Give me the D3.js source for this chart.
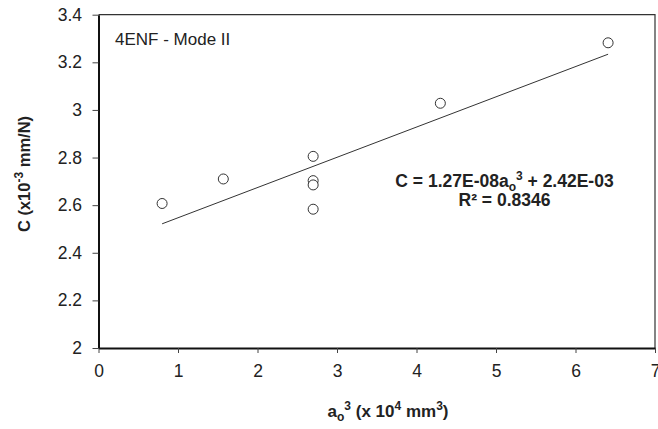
<!DOCTYPE html>
<html>
<head>
<meta charset="utf-8">
<script src="https://cdn.jsdelivr.net/npm/d3@7"></script>
<style>
  body { margin: 0; background: #fff; }
  text { font-family: "Liberation Sans", Arial, sans-serif; fill: #222; }
</style>
</head>
<body>
<div id="chart"></div>
<script>
// data
const aoCubed = [0.8, 1.57, 2.7, 2.7, 2.7, 2.7, 4.3, 6.41];     // x 10^4 mm^3
const compliance = [2.607, 2.71, 2.805, 2.703, 2.685, 2.583, 3.028, 3.282]; // x 10^-3 mm/N
const xTicks = [0, 1, 2, 3, 4, 5, 6, 7];
const yTicks = [2, 2.2, 2.4, 2.6, 2.8, 3, 3.2, 3.4];
const fitSlope = 0.127;     // 1.27E-08 per mm^3 in chart units
const fitIntercept = 2.42;

const W = 658, H = 429;
const margin = { top: 14.7, right: 3, bottom: 81, left: 98.5 };
const width = W - margin.left - margin.right;
const height = H - margin.top - margin.bottom;

const svg = d3.select("#chart")
  .append("svg")
    .attr("width", W)
    .attr("height", H)
  .append("g")
    .attr("transform", `translate(${margin.left},${margin.top})`);

const x = d3.scaleLinear().domain([0, 7]).range([0, width]);
const y = d3.scaleLinear().domain([2, 3.4]).range([height, 0]);

// frame on top / right
svg.append("path")
  .attr("d", `M0,0H${width}V${height}`)
  .attr("fill", "none")
  .attr("stroke", "#333")
  .attr("stroke-width", 1.2);

// X axis
const xAxis = svg.append("g")
  .attr("transform", `translate(0,${height})`)
  .call(d3.axisBottom(x).tickValues(xTicks).tickSize(5).tickSizeOuter(0).tickPadding(12).tickFormat(d => d));
xAxis.select(".domain").attr("stroke", "#111").attr("stroke-width", 2);
xAxis.selectAll(".tick line").attr("stroke", "#444");
xAxis.selectAll("text").attr("font-size", 17.5).attr("fill", "#222")
  .style("font-family", "'Liberation Sans', Arial, sans-serif");

// Y axis
const yAxis = svg.append("g")
  .call(d3.axisLeft(y).tickValues(yTicks).tickSize(6).tickSizeOuter(0).tickPadding(10.5).tickFormat(d => +d.toFixed(1)));
yAxis.select(".domain").attr("stroke", "#111").attr("stroke-width", 2);
yAxis.selectAll(".tick line").attr("stroke", "#444");
yAxis.selectAll("text").attr("font-size", 17.5).attr("fill", "#222")
  .style("font-family", "'Liberation Sans', Arial, sans-serif");

// trend line
const xMin = d3.min(aoCubed), xMax = d3.max(aoCubed);
svg.append("line")
  .attr("x1", x(xMin)).attr("y1", y(fitSlope * xMin + fitIntercept))
  .attr("x2", x(xMax)).attr("y2", y(fitSlope * xMax + fitIntercept))
  .attr("stroke", "#333")
  .attr("stroke-width", 1);

// points
svg.append("g")
  .selectAll("circle")
  .data(aoCubed.map((v, i) => [v, compliance[i]]))
  .join("circle")
    .attr("cx", d => x(d[0]))
    .attr("cy", d => y(d[1]))
    .attr("r", 5)
    .attr("fill", "#fff")
    .attr("stroke", "#333")
    .attr("stroke-width", 1);

// panel label
svg.append("text")
  .attr("x", 16.5)
  .attr("y", 30.5)
  .attr("font-size", 17)
  .text("4ENF - Mode II");

// equation
const eq = svg.append("text")
  .attr("x", 406)
  .attr("y", 172.5)
  .attr("text-anchor", "middle")
  .attr("font-size", 17.5)
  .attr("font-weight", "bold");
eq.append("tspan").text("C = 1.27E-08a");
eq.append("tspan").attr("font-size", 12).attr("dy", 4).text("o");
eq.append("tspan").attr("font-size", 12).attr("dy", -11).text("3");
eq.append("tspan").attr("dy", 7).text(" + 2.42E-03");

svg.append("text")
  .attr("x", 406)
  .attr("y", 191.5)
  .attr("text-anchor", "middle")
  .attr("font-size", 17.5)
  .attr("font-weight", "bold")
  .text("R² = 0.8346");

// x axis title
const xt = svg.append("text")
  .attr("x", 388 - margin.left)
  .attr("y", 417 - margin.top)
  .attr("text-anchor", "middle")
  .attr("font-size", 17)
  .attr("font-weight", "bold");
xt.append("tspan").text("a");
xt.append("tspan").attr("font-size", 12).attr("dy", 4).text("o");
xt.append("tspan").attr("font-size", 12).attr("dy", -11).text("3");
xt.append("tspan").attr("dy", 7).text(" (x 10");
xt.append("tspan").attr("font-size", 12).attr("dy", -7).text("4");
xt.append("tspan").attr("dy", 7).text(" mm");
xt.append("tspan").attr("font-size", 12).attr("dy", -7).text("3");
xt.append("tspan").attr("dy", 7).text(")");

// y axis title
const yt = svg.append("text")
  .attr("transform", `translate(${30 - margin.left},${174 - margin.top}) rotate(-90)`)
  .attr("text-anchor", "middle")
  .attr("font-size", 16.5)
  .attr("font-weight", "bold");
yt.append("tspan").text("C (x10");
yt.append("tspan").attr("font-size", 12).attr("dy", -7).text("-3");
yt.append("tspan").attr("dy", 7).text(" mm/N)");
</script>
</body>
</html>
